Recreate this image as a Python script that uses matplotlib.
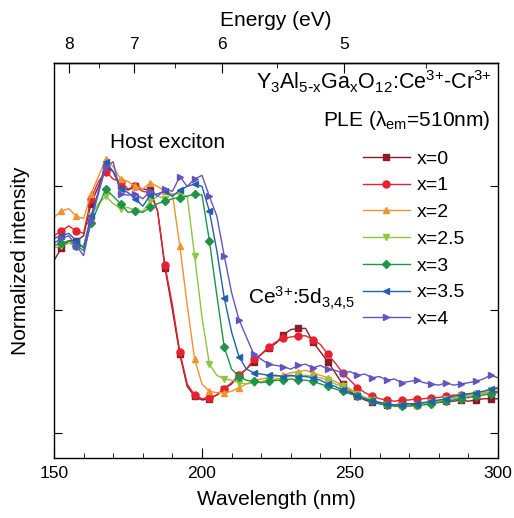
import numpy as np
import matplotlib.pyplot as plt
from matplotlib.ticker import MultipleLocator

plt.rcParams.update({
    'font.family': 'Liberation Sans',
    'mathtext.default': 'regular',
    'font.size': 12,
    'axes.linewidth': 1.0,
})

# PLE spectra sampled every 2.5 nm (normalized intensity)
wavelength = np.arange(150, 300.1, 2.5)

ple_x0 = [0.70, 0.75, 0.78, 0.78, 0.80, 0.93, 1.00, 1.08, 1.06, 1.00,
          0.985, 1.00, 0.99, 0.985, 0.90, 0.67, 0.50, 0.32, 0.19, 0.15,
          0.135, 0.14, 0.155, 0.18, 0.20, 0.235, 0.26, 0.29, 0.32, 0.345,
          0.365, 0.40, 0.42, 0.425, 0.425, 0.37, 0.33, 0.29, 0.245, 0.20,
          0.17, 0.15, 0.135, 0.125, 0.12, 0.115, 0.115, 0.12, 0.12, 0.115,
          0.12, 0.125, 0.125, 0.13, 0.13, 0.135, 0.13, 0.135, 0.14, 0.14,
          0.14]
ple_x1 = [0.80, 0.82, 0.84, 0.82, 0.81, 0.95, 1.02, 1.06, 1.03, 1.02,
          0.99, 1.00, 0.98, 0.975, 0.90, 0.68, 0.52, 0.33, 0.20, 0.155,
          0.14, 0.145, 0.155, 0.18, 0.205, 0.235, 0.26, 0.30, 0.32, 0.35,
          0.37, 0.385, 0.39, 0.395, 0.395, 0.38, 0.36, 0.32, 0.285, 0.245,
          0.215, 0.185, 0.165, 0.15, 0.14, 0.135, 0.13, 0.135, 0.135, 0.14,
          0.14, 0.145, 0.145, 0.15, 0.155, 0.155, 0.16, 0.16, 0.165, 0.165,
          0.17]
ple_x2 = [0.875, 0.90, 0.91, 0.88, 0.87, 0.97, 1.04, 1.11, 1.08, 1.03,
          1.02, 1.00, 0.99, 1.015, 1.00, 0.98, 0.97, 0.76, 0.52, 0.30,
          0.20, 0.17, 0.165, 0.165, 0.17, 0.185, 0.20, 0.215, 0.22, 0.225,
          0.23, 0.235, 0.245, 0.25, 0.255, 0.245, 0.235, 0.225, 0.21, 0.195,
          0.18, 0.16, 0.145, 0.135, 0.125, 0.12, 0.115, 0.115, 0.11, 0.115,
          0.12, 0.125, 0.13, 0.135, 0.14, 0.145, 0.15, 0.155, 0.16, 0.17,
          0.18]
ple_x25 = [0.75, 0.76, 0.77, 0.76, 0.76, 0.88, 0.93, 0.96, 0.93, 0.91,
           0.915, 0.90, 0.90, 0.94, 0.96, 0.95, 0.97, 0.97, 0.96, 0.72,
           0.47, 0.28, 0.235, 0.22, 0.215, 0.205, 0.20, 0.205, 0.21, 0.215,
           0.22, 0.225, 0.23, 0.235, 0.235, 0.23, 0.225, 0.215, 0.20, 0.19,
           0.175, 0.16, 0.145, 0.135, 0.125, 0.115, 0.11, 0.11, 0.11, 0.115,
           0.12, 0.125, 0.13, 0.14, 0.145, 0.15, 0.155, 0.16, 0.165, 0.175,
           0.18]
ple_x3 = [0.76, 0.77, 0.78, 0.76, 0.74, 0.85, 0.92, 0.99, 0.96, 0.93,
          0.895, 0.90, 0.895, 0.915, 0.93, 0.94, 0.95, 0.955, 0.96, 0.97,
          0.965, 0.78, 0.56, 0.35, 0.26, 0.23, 0.215, 0.21, 0.205, 0.21,
          0.215, 0.215, 0.22, 0.215, 0.215, 0.21, 0.20, 0.19, 0.18, 0.17,
          0.16, 0.15, 0.14, 0.13, 0.12, 0.115, 0.11, 0.11, 0.11, 0.115,
          0.115, 0.12, 0.125, 0.13, 0.135, 0.14, 0.145, 0.15, 0.155, 0.16,
          0.165]
ple_x35 = [0.79, 0.80, 0.81, 0.78, 0.75, 0.88, 0.98, 1.10, 1.06, 0.99,
           0.975, 0.95, 0.92, 0.965, 0.97, 0.98, 0.96, 0.985, 1.00, 1.01,
           1.00, 0.90, 0.74, 0.55, 0.41, 0.31, 0.26, 0.245, 0.24, 0.235,
           0.235, 0.23, 0.235, 0.23, 0.23, 0.225, 0.215, 0.20, 0.19, 0.175,
           0.165, 0.15, 0.14, 0.13, 0.125, 0.12, 0.115, 0.115, 0.12, 0.12,
           0.125, 0.13, 0.135, 0.14, 0.15, 0.155, 0.16, 0.165, 0.17, 0.18,
           0.185]
ple_x4 = [0.77, 0.79, 0.80, 0.76, 0.72, 0.86, 0.97, 1.08, 1.10, 0.97,
          0.965, 0.97, 0.95, 0.98, 0.96, 0.99, 0.98, 1.04, 1.00, 1.03,
          1.045, 0.96, 0.88, 0.72, 0.57, 0.46, 0.39, 0.32, 0.30, 0.28,
          0.275, 0.27, 0.26, 0.275, 0.28, 0.265, 0.275, 0.26, 0.255, 0.245,
          0.25, 0.235, 0.24, 0.225, 0.23, 0.215, 0.22, 0.205, 0.21, 0.215,
          0.205, 0.20, 0.195, 0.205, 0.195, 0.20, 0.205, 0.21, 0.22, 0.235,
          0.225]

series = [ple_x0, ple_x1, ple_x2, ple_x25, ple_x3, ple_x35, ple_x4]
labels = ['x=0', 'x=1', 'x=2', 'x=2.5', 'x=3', 'x=3.5', 'x=4']
colors = ['#8b1a2b', '#e8212e', '#f3922f', '#8dc63f', '#1e9447', '#2260b0', '#6355c0']
markers = ['s', 'o', '^', 'v', 'D', '<', '>']
msizes = [4.5, 5, 5, 5, 4, 5, 5]

fig = plt.figure(figsize=(5.14, 5.18), dpi=100)
ax = fig.add_axes([54 / 514, 60 / 518, 444 / 514, 395 / 518])

for y, lab, c, m, ms in zip(series, labels, colors, markers, msizes):
    ax.plot(wavelength, y, color=c, lw=1.0, marker=m, ms=ms,
            markevery=(1, 2), label=lab)

ax.set_xlim(150, 300)
ax.set_ylim(-0.1, 1.5)
ax.set_xticks([150, 200, 250, 300])
ax.xaxis.set_minor_locator(MultipleLocator(10))
ax.set_yticks([0, 0.5, 1.0])
ax.tick_params(axis='x', which='both', direction='in', top=False, labelsize=12.5, pad=6)
ax.tick_params(axis='x', which='major', length=7)
ax.tick_params(axis='x', which='minor', length=3.5)
ax.tick_params(axis='y', which='both', direction='in', left=True, right=True,
               labelleft=False, length=6)
ax.set_xlabel('Wavelength (nm)', fontsize=15, labelpad=6)
ax.set_ylabel('Normalized intensity', fontsize=15, labelpad=17)


def nm_ev(v):
    v = np.asarray(v, dtype=float)
    with np.errstate(divide='ignore'):
        return 1239.84 / v


secax = ax.secondary_xaxis('top', functions=(nm_ev, nm_ev))
secax.set_xticks([8, 7, 6, 5])
secax.set_xticks([7.5, 6.5, 5.5, 4.5], minor=True)
secax.tick_params(which='both', direction='in', labelsize=12.5, pad=8)
secax.tick_params(which='major', length=7)
secax.tick_params(which='minor', length=3.5)
secax.set_xlabel('Energy (eV)', fontsize=15, labelpad=8)

fig.text(492 / 514, 1 - 82 / 518,
         r'Y$_3$Al$_{5\text{-}x}$Ga$_x$O$_{12}$:Ce$^{3{+}}$-Cr$^{3{+}}$',
         ha='right', va='center', fontsize=15.5)
fig.text(490 / 514, 1 - 120 / 518, r'PLE ($\lambda_{em}$=510nm)',
         ha='right', va='center', fontsize=15)
fig.text(168 / 514, 1 - 142 / 518, 'Host exciton', ha='center', va='center', fontsize=15)
fig.text(248 / 514, 1 - 298 / 518, r'Ce$^{3{+}}$:5d$_{3{,}4{,}5}$', ha='left',
         va='center', fontsize=15)

ax.legend(loc='upper left', bbox_to_anchor=(363 / 514, 1 - 150 / 518),
          bbox_transform=fig.transFigure, frameon=False, fontsize=14,
          handlelength=2.4, handletextpad=0.35, labelspacing=0.47,
          borderpad=0, borderaxespad=0, numpoints=1)

fig.savefig('out.png', dpi=100)
